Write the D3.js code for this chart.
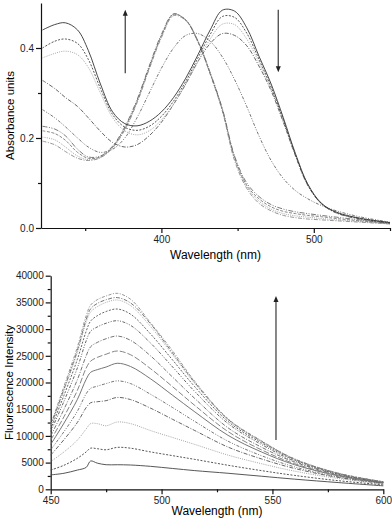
<!DOCTYPE html>
<html lang="en">
  <head>
    <meta charset="utf-8">
    <title>Absorbance and fluorescence titration</title>
    <style>
      body { margin: 0; background: white; }
      svg { display: block; font-family: "Liberation Sans", Arial, sans-serif; }
    </style>
    <script src="https://d3js.org/d3.v7.min.js"></script>
  </head>
  <body>
    <div class="chart"></div>
    <script>

    // ---- absorbance panel data ----
    const absWl = [322, 330, 337, 345, 352, 360, 368, 376, 384, 392, 400, 408, 416, 424, 432, 440, 448, 456, 464, 472, 480, 488, 496, 505, 515, 530, 550]
    const absR1 = [0.44, 0.452, 0.456, 0.44, 0.395, 0.32, 0.258, 0.232, 0.227, 0.237, 0.258, 0.29, 0.333, 0.385, 0.44, 0.484, 0.482, 0.445, 0.382, 0.32, 0.245, 0.165, 0.098, 0.055, 0.035, 0.022, 0.012]
    const absR2 = [0.40, 0.415, 0.42, 0.41, 0.375, 0.31, 0.252, 0.224, 0.217, 0.226, 0.248, 0.282, 0.326, 0.378, 0.43, 0.47, 0.468, 0.433, 0.375, 0.313, 0.24, 0.162, 0.096, 0.054, 0.034, 0.021, 0.012]
    const absR3 = [0.378, 0.388, 0.393, 0.385, 0.357, 0.30, 0.245, 0.216, 0.207, 0.216, 0.24, 0.275, 0.32, 0.37, 0.42, 0.453, 0.452, 0.42, 0.368, 0.31, 0.238, 0.162, 0.097, 0.055, 0.034, 0.021, 0.012]
    const absR4 = [0.328, 0.31, 0.29, 0.27, 0.245, 0.215, 0.19, 0.18, 0.185, 0.205, 0.235, 0.275, 0.32, 0.37, 0.41, 0.432, 0.428, 0.405, 0.36, 0.305, 0.235, 0.16, 0.095, 0.054, 0.033, 0.02, 0.011]
    const absM  = [0.263, 0.245, 0.225, 0.2, 0.18, 0.168, 0.175, 0.2, 0.245, 0.3, 0.355, 0.4, 0.428, 0.432, 0.415, 0.38, 0.33, 0.27, 0.205, 0.15, 0.11, 0.083, 0.065, 0.05, 0.038, 0.025, 0.013]
    const absB1 = [0.226, 0.22, 0.205, 0.175, 0.158, 0.16, 0.182, 0.225, 0.285, 0.36, 0.43, 0.476, 0.462, 0.415, 0.345, 0.265, 0.16, 0.1, 0.07, 0.052, 0.042, 0.036, 0.032, 0.028, 0.024, 0.018, 0.01]
    const absB2 = [0.216, 0.21, 0.195, 0.168, 0.155, 0.158, 0.18, 0.222, 0.282, 0.357, 0.427, 0.475, 0.462, 0.414, 0.343, 0.262, 0.157, 0.095, 0.065, 0.047, 0.037, 0.032, 0.028, 0.025, 0.021, 0.016, 0.01]
    const absB3 = [0.202, 0.196, 0.18, 0.16, 0.152, 0.157, 0.179, 0.22, 0.28, 0.355, 0.425, 0.474, 0.463, 0.416, 0.346, 0.264, 0.155, 0.092, 0.06, 0.042, 0.032, 0.027, 0.024, 0.021, 0.018, 0.014, 0.009]
    const absB4 = [0.193, 0.185, 0.17, 0.155, 0.15, 0.156, 0.178, 0.218, 0.278, 0.353, 0.423, 0.472, 0.461, 0.413, 0.342, 0.26, 0.15, 0.088, 0.055, 0.038, 0.028, 0.023, 0.02, 0.018, 0.016, 0.013, 0.009]
    const absSeries = [absB4, absB3, absB2, absB1, absM, absR4, absR3, absR2, absR1]
    const absTicksX = [400, 500]
    const absTicksY = [0.0, 0.2, 0.4]

    // ---- fluorescence panel data ----
    const flWl = [450, 456, 462, 466, 468, 471, 475, 480, 486, 495, 505, 515, 530, 545, 560, 580, 600]
    const fl01 = [2700, 3000, 3600, 4100, 5300, 4900, 4600, 4600, 4550, 4300, 3900, 3500, 3000, 2450, 1900, 1250, 650]
    const fl02 = [3600, 4500, 5800, 7000, 7700, 7600, 7400, 7850, 7700, 7000, 6300, 5600, 4500, 3500, 2600, 1600, 850]
    const fl03 = [5200, 7000, 9200, 11300, 12300, 12300, 11900, 12600, 12300, 11000, 9700, 8400, 6400, 4800, 3400, 2000, 1000]
    const fl04 = [6400, 9300, 12500, 15300, 16200, 16400, 16600, 17200, 16800, 15200, 13100, 11000, 7900, 5700, 3900, 2200, 1100]
    const fl05 = [7400, 10800, 14600, 17900, 18900, 19300, 19800, 20300, 19800, 17800, 15300, 12700, 9000, 6300, 4200, 2300, 1150]
    const fl06 = [8400, 12400, 16800, 20600, 21900, 22400, 22900, 23600, 23000, 20700, 17600, 14500, 10100, 7000, 4600, 2500, 1200]
    const fl07 = [9200, 13600, 18500, 22700, 24000, 24700, 25300, 25900, 25200, 22600, 19200, 15700, 10800, 7400, 4800, 2600, 1250]
    const fl08 = [10000, 15000, 20500, 25000, 26700, 27500, 28200, 28700, 27900, 25000, 21000, 17000, 11500, 7900, 5100, 2700, 1300]
    const fl09 = [10800, 16500, 22700, 27800, 29600, 30400, 31100, 31570, 30700, 27400, 22900, 18300, 12300, 8400, 5300, 2800, 1330]
    const fl10 = [11300, 17600, 24300, 29600, 31500, 32500, 33300, 33760, 32800, 29100, 24200, 19200, 12700, 8700, 5500, 2900, 1360]
    const fl11 = [11700, 18500, 25600, 31300, 33200, 34200, 35000, 35450, 34400, 30500, 25200, 19800, 13000, 8900, 5600, 2950, 1380]
    const fl12 = [11900, 18800, 26000, 31800, 33800, 34800, 35500, 35900, 34900, 31000, 25500, 20000, 13100, 9000, 5650, 2950, 1400]
    const fl13 = [12100, 19300, 26600, 32500, 34500, 35500, 36200, 36700, 35600, 31200, 25900, 20200, 13200, 9100, 5700, 3000, 1420]
    const flSeries = [fl01, fl02, fl03, fl04, fl05, fl06, fl07, fl08, fl09, fl10, fl11, fl12, fl13]
    const flTicksX = [450, 500, 550, 600]
    const flTicksY = [0, 5000, 10000, 15000, 20000, 25000, 30000, 35000, 40000]

    // line looks, cycled per series
    const styles = [
      { c: "#8a8a8a", d: "4,1.5,1,1.5" },
      { c: "#9a9a9a", d: "1,1.2" },
      { c: "#7a7a7a", d: "3,1.5" },
      { c: "#6a6a6a", d: "5,1.5,1,1.5,1,1.5" },
      { c: "#666", d: "3,1.5,1,1.5,1,1.5" },
      { c: "#555", d: "4,1.5,1,1.5" },
      { c: "#a0a0a0", d: "1,1.2" },
      { c: "#444", d: "2,1.5" },
      { c: "#333", d: null }
    ]
    const flStyles = [
      { c: "#444", d: null },
      { c: "#444", d: "2,1.5" },
      { c: "#9a9a9a", d: "1,1.2" },
      { c: "#555", d: "4,1.5,1,1.5" },
      { c: "#666", d: "3,1.5,1,1.5,1,1.5" },
      { c: "#666", d: null },
      { c: "#777", d: "6,2" },
      { c: "#666", d: "4,1.5,1,1.5" },
      { c: "#555", d: "3,1.5,1,1.5,1,1.5" },
      { c: "#555", d: "2,1.5" },
      { c: "#a0a0a0", d: "1,1.2" },
      { c: "#666", d: "4,1.5,1,1.5" },
      { c: "#8a8a8a", d: "3,1.5,1,1.5" }
    ]

    const svg = d3.select(".chart")
      .append("svg")
      .attr("width", 392)
      .attr("height", 526)

    const panel = (o) => {
      const x = d3.scaleLinear().domain(o.xDomain).range(o.xRange)
      const y = d3.scaleLinear().domain(o.yDomain).range(o.yRange)
      const g = svg.append("g")

      // minor ticks
      g.append("g")
        .attr("transform", `translate(0,${o.yRange[0]})`)
        .call(d3.axisBottom(x).tickValues(o.xMinor).tickSize(3).tickFormat(""))
        .call(a => a.select(".domain").remove())
      g.append("g")
        .attr("transform", `translate(${o.xRange[0]},0)`)
        .call(d3.axisLeft(y).tickValues(o.yMinor).tickSize(3).tickFormat(""))
        .call(a => a.select(".domain").remove())

      const ax = g.append("g")
        .attr("transform", `translate(0,${o.yRange[0]})`)
        .call(d3.axisBottom(x).tickValues(o.xTicks).tickSize(5).tickSizeOuter(0).tickPadding(3).tickFormat(d3.format("d")))
      const ay = g.append("g")
        .attr("transform", `translate(${o.xRange[0]},0)`)
        .call(d3.axisLeft(y).tickValues(o.yTicks).tickSize(5).tickSizeOuter(0).tickPadding(2).tickFormat(o.yFormat))
      g.selectAll(".tick text").style("font-size", "10px").attr("fill", "#222")
      g.selectAll(".domain, .tick line").attr("stroke", "#111").attr("stroke-width", 1.2)

      const line = d3.line()
        .x((d, i) => x(o.wl[i]))
        .y(d => y(d))
        .curve(d3.curveCatmullRom.alpha(0.5))

      g.append("g")
        .attr("fill", "none")
        .selectAll("path")
        .data(o.series)
        .join("path")
        .attr("d", line)
        .attr("stroke", (d, i) => o.styles[i % o.styles.length].c)
        .attr("stroke-width", 0.9)
        .attr("stroke-dasharray", (d, i) => o.styles[i % o.styles.length].d)

      o.arrows.forEach(a => {
        const x0 = x(a.wl), y0 = y(a.from), y1 = y(a.to)
        const dir = y1 < y0 ? 1 : -1
        g.append("line")
          .attr("x1", x0).attr("x2", x0)
          .attr("y1", y0).attr("y2", y1 + dir * 5)
          .attr("stroke", "#555").attr("stroke-width", 1.4)
        g.append("path")
          .attr("d", `M${x0},${y1} L${x0 - 2.5},${y1 + dir * 6} L${x0 + 2.5},${y1 + dir * 6} Z`)
          .attr("fill", "#222")
      })

      g.append("text")
        .attr("x", (o.xRange[0] + o.xRange[1]) / 2)
        .attr("y", o.xLabelY)
        .attr("text-anchor", "middle")
        .style("font-size", "12px")
        .text("Wavelength (nm)")

      g.append("text")
        .attr("transform", `translate(${o.yLabelX},${(o.yRange[0] + o.yRange[1]) / 2}) rotate(-90)`)
        .attr("text-anchor", "middle")
        .style("font-size", "11.5px")
        .text(o.yLabel)
    }

    panel({
      wl: absWl, series: absSeries, styles: styles,
      xDomain: [321, 550], xRange: [41, 390],
      yDomain: [0, 0.5], yRange: [228, 3],
      xTicks: absTicksX, xMinor: [350, 450, 550],
      yTicks: absTicksY, yMinor: [0.1, 0.3],
      yFormat: d3.format(".1f"),
      xLabelY: 259, yLabelX: 14, yLabel: "Absorbance units",
      arrows: [{ wl: 376.3, from: 0.344, to: 0.485 }, { wl: 476.7, from: 0.485, to: 0.346 }]
    })

    panel({
      wl: flWl, series: flSeries, styles: flStyles,
      xDomain: [450, 600], xRange: [50.7, 383.3],
      yDomain: [0, 40000], yRange: [489.3, 275.7],
      xTicks: flTicksX, xMinor: [475, 525, 575],
      yTicks: flTicksY, yMinor: d3.range(2500, 40000, 5000),
      yFormat: d3.format("d"),
      xLabelY: 515, yLabelX: 13, yLabel: "Fluorescence Intensity",
      arrows: [{ wl: 551.6, from: 9230, to: 36200 }]
    })
    </script>
  </body>
</html>
